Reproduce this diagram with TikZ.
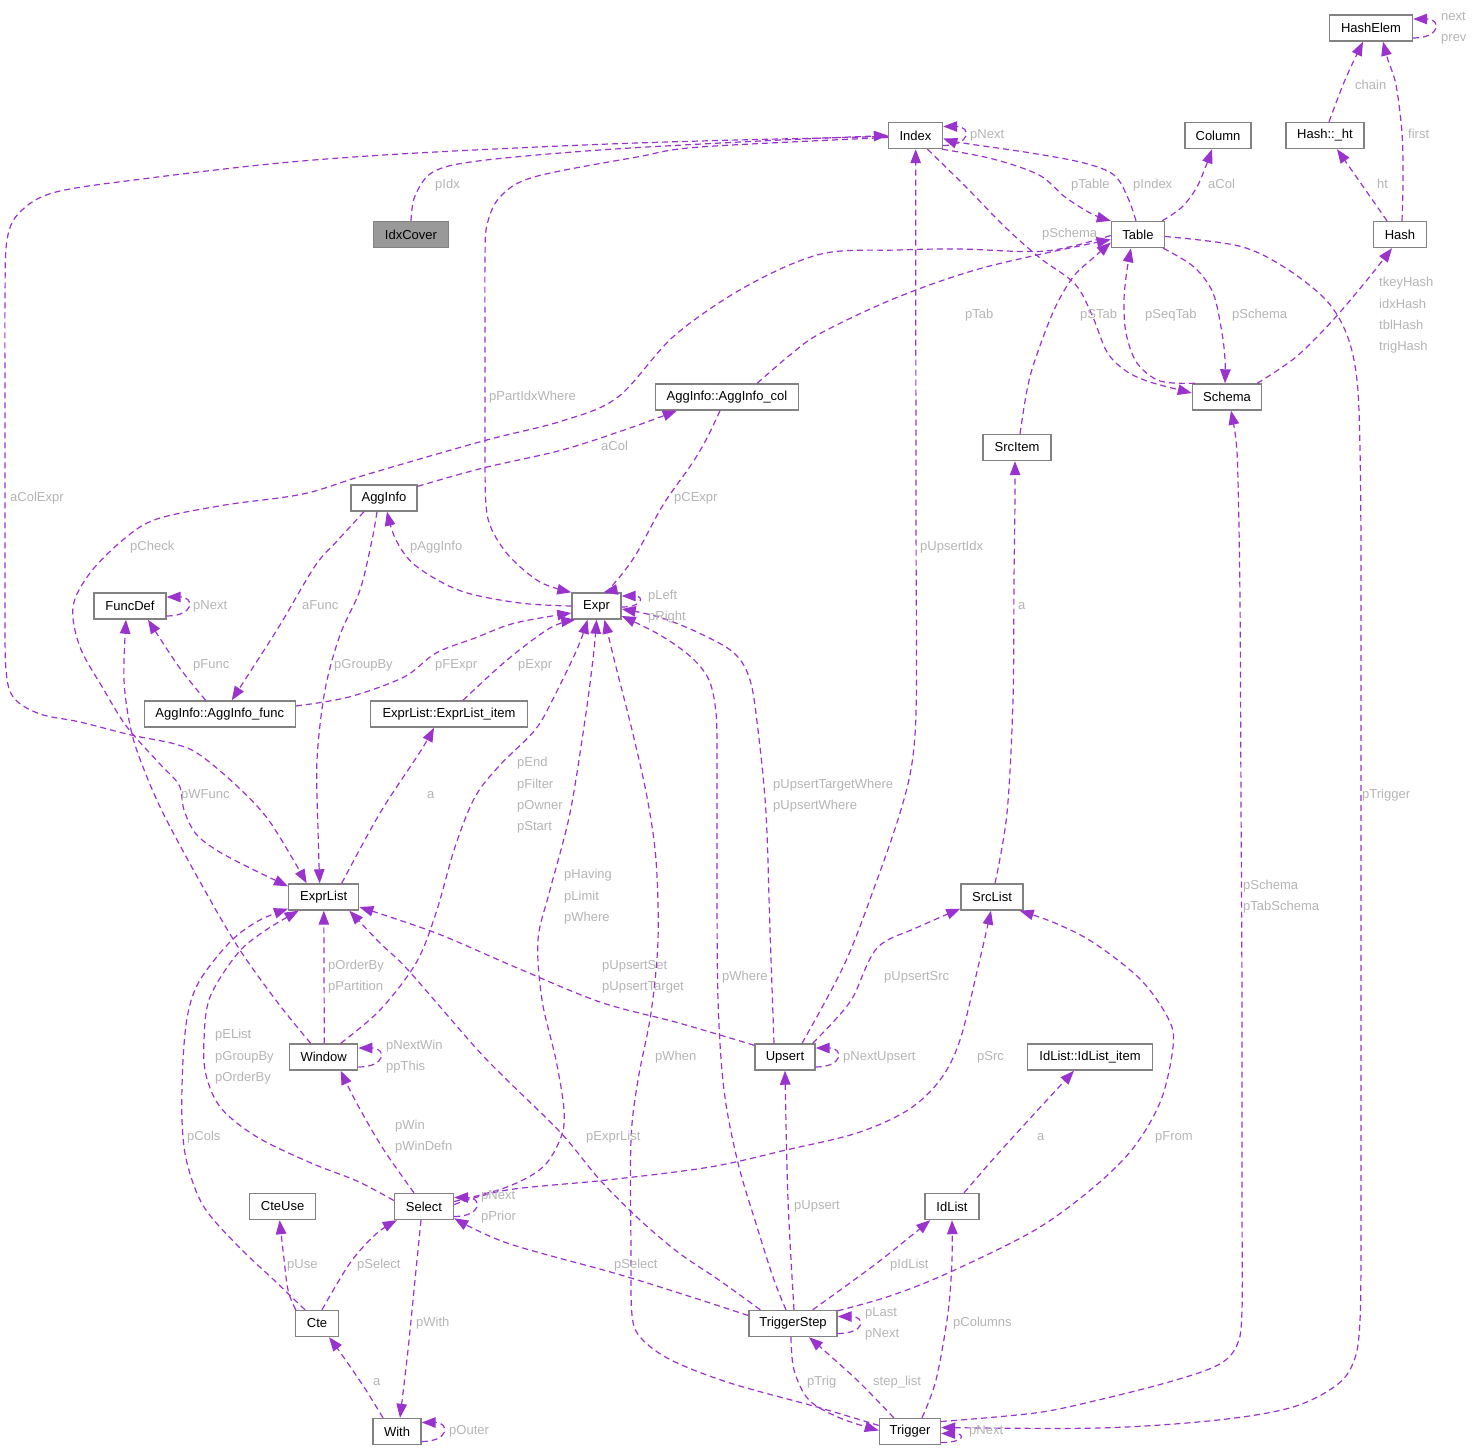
\documentclass[tikz,border=0pt]{standalone}
\usepackage{fontspec}
\setmainfont{Liberation Sans}
\usetikzlibrary{arrows.meta,calc}
\definecolor{edgec}{HTML}{9A32CD}
\definecolor{lblc}{HTML}{B4B4B4}
\definecolor{boxc}{HTML}{828282}
\definecolor{idxfill}{HTML}{999999}
\tikzset{
 cls/.style={draw=boxc, line width=1.4pt, fill=white, minimum height=26pt, inner sep=0pt, font=\fontsize{13}{15}\selectfont, text=black},
 edge/.style={draw=edgec, line width=1.2pt, dash pattern=on 6pt off 4pt, -{Triangle[length=14pt,width=10.5pt]}},
 lbl/.style={anchor=west, inner sep=0pt, text=lblc, font=\fontsize{13}{15}\selectfont, text height=9.5pt, text depth=2.5pt},
}
\newcommand\mylbl[4]{\node[lbl] (#1) at (#2,#3) {#4};}
\newcommand\edgeplot[1]{\draw[edge] plot[smooth,tension=0.55] coordinates {#1};}
\newcommand\selfloop[1]{\draw[edge] ($(#1.east)+(0,10)$) .. controls +(28,0) and +(28,0) .. ($(#1.east)+(0,-9)$);}
\begin{document}
\begin{tikzpicture}[x=1pt,y=-1pt]
\useasboundingbox (0,0) rectangle (1476,1451);
% nodes
\node[cls, minimum width=83pt] (HashElem) at (1371,28) {HashElem};
\node[cls, minimum width=54pt] (Index) at (915.5,135.5) {Index};
\node[cls, minimum width=66pt] (Column) at (1218,135.5) {Column};
\node[cls, minimum width=78pt] (Hashht) at (1325,135.5) {Hash::\_ht};
\node[cls, minimum width=75pt, fill=idxfill] (IdxCover) at (411,234.5) {IdxCover};
\node[cls, minimum width=53pt] (Table) at (1138,234.5) {Table};
\node[cls, minimum width=53pt] (Hash) at (1400,234.5) {Hash};
\node[cls, minimum width=143pt] (AggCol) at (727,397) {AggInfo::AggInfo\_col};
\node[cls, minimum width=69pt] (Schema) at (1227,397) {Schema};
\node[cls, minimum width=68pt] (SrcItem) at (1017,447.5) {SrcItem};
\node[cls, minimum width=66pt] (AggInfo) at (384,498) {AggInfo};
\node[cls, minimum width=72pt] (FuncDef) at (130,606) {FuncDef};
\node[cls, minimum width=49pt] (Expr) at (596.5,606) {Expr};
\node[cls, minimum width=151pt] (AggFunc) at (219.7,714) {AggInfo::AggInfo\_func};
\node[cls, minimum width=157pt] (ExprItem) at (449,714) {ExprList::ExprList\_item};
\node[cls, minimum width=70pt] (ExprList) at (323.7,897) {ExprList};
\node[cls, minimum width=62pt] (SrcList) at (992,897) {SrcList};
\node[cls, minimum width=68pt] (Window) at (323.7,1057) {Window};
\node[cls, minimum width=60pt] (Upsert) at (785,1057) {Upsert};
\node[cls, minimum width=125pt] (IdItem) at (1090,1057) {IdList::IdList\_item};
\node[cls, minimum width=66pt] (CteUse) at (282.6,1206.5) {CteUse};
\node[cls, minimum width=59pt] (Select) at (424,1206.5) {Select};
\node[cls, minimum width=54pt] (IdList) at (952,1206.5) {IdList};
\node[cls, minimum width=43pt] (Cte) at (317,1323.5) {Cte};
\node[cls, minimum width=88pt] (TriggerStep) at (793,1323.5) {TriggerStep};
\node[cls, minimum width=48pt] (With) at (397,1431.5) {With};
\node[cls, minimum width=61pt] (Trigger) at (910,1431.5) {Trigger};
% edges
\edgeplot{(IdxCover.north) (415,196) (433,172) (478,161) (600,150) (760,141) (Index.west)}
\edgeplot{($(Index.west)+(0,1)$) (700,141) (560,146) (400,154) (280,163) (150,178) (56,192) (20,212) (7,240) (5,300) (5,400) (5,500) (5,600) (6,670) (14,698) (40,714) (80,722) (131,735) (175,744) (200,755) (238,787) (270,822) ($(ExprList.north)+(-17,0)$)}
\edgeplot{($(Index.west)+(0,2)$) (700,147) (637,157) (534,177) (500,197) (487,225) (485,260) (485,350) (485,450) (486,505) (492,530) (510,557) (540,582) (Expr.north west)}
\selfloop{Index}
\edgeplot{($(Table.north)+(-2,0)$) (1128,198) (1114,175) (1084,163) (1031,153) (963,143) ($(Index.east)+(0,3)$)}
\edgeplot{($(Index.south east)+(-1,0)$) (993,159) (1039,175) (1065,197) (1092,214) (Table.north west)}
\edgeplot{($(Index.south)+(12,0)$) (967,188) (1005,227) (1040,258) (1075,284) (1092,315) (1107,352) (1126,371) (1150,382) ($(Schema.west)+(0,-4)$)}
\edgeplot{($(Schema.north west)+(3,0)$) (1160,381) (1137,363) (1126,333) (1124,300) (1127,270) ($(Table.south)+(-7,0)$)}
\edgeplot{($(Table.north east)+(-3,0)$) (1182,207) (1198,185) ($(Column.south)+(-6,0)$)}
\edgeplot{($(Table.south east)+(-2,0)$) (1194,267) (1213,293) (1222,333) (1225,360) ($(Schema.north)+(-2,0)$)}
\edgeplot{($(Table.east)+(0,2)$) (1239,246) (1284,267) (1326,300) (1347,335) (1357,380) (1360,450) (1361,550) (1361,700) (1361,900) (1361,1100) (1361,1250) (1360,1320) (1355,1358) (1338,1384) (1293,1407) (1218,1420) (1100,1428) ($(Trigger.east)+(0,-4)$)}
\edgeplot{($(Trigger.east)+(0,-10)$) (1035,1413) (1094,1401) (1169,1382) (1218,1365) (1237,1345) (1242,1310) (1242,1200) (1242,1000) (1241,800) (1240,600) (1238,480) (1236,440) ($(Schema.south)+(4,0)$)}
\edgeplot{($(Hashht.north)+(4,0)$) (1345,80) ($(HashElem.south)+(-8,0)$)}
\edgeplot{($(Hash.north)+(2,0)$) (1403,180) (1402,133) (1396,85) (1388,60) ($(HashElem.south)+(12,0)$)}
\draw[edge] ($(Hash.north)+(-13,0)$) -- ($(Hashht.south)+(12,0)$);
\selfloop{HashElem}
\edgeplot{($(Schema.north east)+(-5,0)$) (1296,357) (1333,320) (1367,280) ($(Hash.south)+(-8,0)$)}
\edgeplot{($(SrcItem.north)+(3,0)$) (1027,390) (1035,360) (1054,310) (1073,277) (1092,259) ($(Table.west)+(0,8)$)}
\edgeplot{($(AggCol.north east)+(-42,0)$) (790,355) (821,333) (898,297) (986,267) ($(Table.west)+(0,5)$)}
\edgeplot{($(Table.west)+(0,1)$) (1046,251) (960,249) (898,250) (821,254) (745,287) (674,336) (618,397) (562,421) (483,441) (365,475) (303,494) (225,505) (157,519) (124,539) (90,573) (73,607) (80,647) (104,690) (127,727) (159,763) (179,785) (184,810) (196,834) (218,851) (250,868) ($(ExprList.north west)+(0,3)$)}
\edgeplot{($(AggInfo.north east)+(0,2)$) (483,468) (562,450) (630,428) ($(AggCol.south west)+(22,0)$)}
\edgeplot{($(AggCol.south)+(-7,0)$) (706,440) (691,465) (663,505) (635,556) (612,586) ($(Expr.north)+(7,0)$)}
\edgeplot{(Expr.west) (520,603) (461,591) (416,566) (396,540) ($(AggInfo.south)+(3,0)$)}
\edgeplot{($(AggInfo.south)+(-20,0)$) (338,540) (315,566) (280,625) (250,672) ($(AggFunc.north)+(12,0)$)}
\edgeplot{($(AggInfo.south)+(-7,0)$) (372,540) (360,590) (340,635) (325,690) (317,760) (318,830) ($(ExprList.north)+(-4,0)$)}
\edgeplot{($(AggFunc.north)+(-14,0)$) (179,667) ($(FuncDef.south)+(18,0)$)}
\edgeplot{($(AggFunc.east)+(0,-8)$) (349,697) (404,677) (436,653) (475,638) (515,623) ($(Expr.west)+(0,7)$)}
\edgeplot{($(ExprItem.north)+(14,0)$) (507,660) (550,628) ($(Expr.south west)+(4,0)$)}
\edgeplot{($(ExprList.north)+(18,0)$) (380,813) (420,752) ($(ExprItem.south)+(-15,0)$)}
\selfloop{FuncDef}
\draw[edge] ($(Expr.east)+(0,1)$) .. controls +(22,0) and +(22,0) .. ($(Expr.east)+(0,-10)$);
\edgeplot{($(Upsert.north)+(-11,0)$) (770,930) (766,813) (758,730) (750,680) (734,653) (699,633) (659,617) ($(Expr.east)+(0,3)$)}
\edgeplot{($(TriggerStep.north)+(-7,0)$) (774,1280) (758,1230) (738,1163) (724,1090) (718,1000) (717,880) (717,760) (716,713) (709,680) (691,657) (660,635) ($(Expr.east)+(0,10)$)}
\edgeplot{($(Window.north)+(17,0)$) (380,1010) (416,963) (436,913) (455,847) (475,797) (500,765) (535,730) (554,697) (578,647) ($(Expr.south)+(-9,0)$)}
\edgeplot{($(Select.east)+(0,-5)$) (507,1187) (543,1167) (561,1137) (564,1110) (556,1060) (542,1000) (538,940) (550,890) (570,813) (586,713) (594,650) (Expr.south)}
\edgeplot{($(Trigger.west)+(0,-6)$) (817,1407) (730,1383) (671,1360) (641,1338) (632,1315) (631,1250) (631,1140) (638,1080) (651,1013) (658,940) (656,860) (647,797) (632,730) (616,667) ($(Expr.south)+(8,0)$)}
\edgeplot{($(Window.north)+(-13,0)$) (278,1003) (238,947) (199,880) (163,813) (143,767) (131,730) (124,680) ($(FuncDef.south)+(-4,0)$)}
\edgeplot{($(Select.west)+(0,-6)$) (357,1181) (311,1163) (257,1137) (221,1108) (206,1075) (204,1040) (210,997) (238,953) (266,930) ($(ExprList.south)+(-25,0)$)}
\edgeplot{($(Cte.north)+(-12,0)$) (275,1281) (239,1247) (204,1207) (187,1163) (182,1120) (183,1060) (188,1013) (200,980) (230,942) (258,921) ($(ExprList.south west)+(0,-2)$)}
\draw[edge] ($(Window.north)+(0.6,0)$) -- ($(ExprList.south)+(0.1,0)$);
\edgeplot{($(TriggerStep.north west)+(12,0)$) (719,1280) (679,1253) (640,1220) (600,1180) (561,1133) (507,1080) (475,1047) (408,970) (380,943) ($(ExprList.south east)+(-10,0)$)}
\edgeplot{($(Upsert.north west)+(0,2)$) (679,1023) (600,1002) (515,967) (436,933) ($(ExprList.east)+(0,10)$)}
\selfloop{Window}
\edgeplot{($(Select.north)+(-10,0)$) (382,1147) (355,1100) ($(Window.south)+(17,0)$)}
\selfloop{Select}
\edgeplot{($(Select.east)+(0,-2)$) (507,1190) (607,1180) (710,1167) (786,1150) (857,1133) (908,1110) (940,1080) (960,1040) (979,963) ($(SrcList.south)+(-1,0)$)}
\edgeplot{($(Cte.north)+(5,0)$) (350,1263) (376,1234) ($(Select.south west)+(3,0)$)}
\edgeplot{($(TriggerStep.west)+(0,-8)$) (679,1293) (614,1273) (507,1243) ($(Select.south east)+(0,-2)$)}
\edgeplot{($(Select.south)+(-3,0)$) (415,1280) (408,1350) ($(With.north)+(3,0)$)}
\edgeplot{($(Cte.north west)+(1,0)$) (288,1290) (283,1250) ($(CteUse.south)+(-3,0)$)}
\edgeplot{($(With.north)+(-14,0)$) (364,1387) (340,1352) ($(Cte.south)+(12,0)$)}
\selfloop{With}
\edgeplot{($(Upsert.north)+(17,0)$) (845,963) (877,880) (900,813) (912,763) (916.3,700) (916.1,550) (915.9,400) (915.7,250) ($(Index.south)+(0.2,0)$)}
\edgeplot{($(Upsert.north east)+(-3,0)$) (835,1020) (853,997) (877,948) (916,928) ($(SrcList.south west)+(0,-2)$)}
\selfloop{Upsert}
\edgeplot{($(SrcList.north)+(3,0)$) (1007,813) (1013,700) (1014,580) (1015,500) ($(SrcItem.south)+(-2,0)$)}
\edgeplot{($(TriggerStep.north)+(1,0)$) (788,1200) (Upsert.south)}
\edgeplot{($(TriggerStep.north east)+(-25,0)$) (877,1263) ($(IdList.south west)+(6,0)$)}
\edgeplot{($(TriggerStep.north east)+(0,1)$) (890,1296) (948,1273) (1035,1230) (1094,1187) (1134,1147) (1161,1100) (1173,1047) (1169,1020) (1141,980) (1094,943) (1055,923) ($(SrcList.south east)+(-4,0)$)}
\draw[edge] ($(TriggerStep.east)+(0,10)$) .. controls +(28,0) and +(28,0) .. ($(TriggerStep.east)+(0,-7)$);
\edgeplot{($(TriggerStep.south)+(-2,0)$) (794,1370) (809,1400) (840,1418) ($(Trigger.west)+(0,-1)$)}
\edgeplot{($(Trigger.north west)+(15,0)$) (857,1380) ($(TriggerStep.south)+(16,0)$)}
\edgeplot{($(Trigger.north)+(12,0)$) (936,1380) (948,1313) (952,1260) (IdList.south)}
\edgeplot{($(IdList.north)+(12,0)$) (995,1157) (1035,1113) ($(IdItem.south)+(-16,0)$)}
\draw[edge] ($(Trigger.east)+(0,11)$) .. controls +(24,0) and +(24,0) .. ($(Trigger.east)+(0,2)$);
% labels
\mylbl{lpIdx}{435}{185}{pIdx}
\mylbl{laColExpr}{10}{498}{aColExpr}
\mylbl{lpPartIdx}{489}{397}{pPartIdxWhere}
\mylbl{lIdxNext}{970}{135}{pNext}
\mylbl{lpTable}{1071}{185}{pTable}
\mylbl{lpIndex}{1133}{185}{pIndex}
\mylbl{laColT}{1208}{185}{aCol}
\mylbl{lpSchemaI}{1042}{234}{pSchema}
\mylbl{lchain}{1355}{86}{chain}
\mylbl{lfirst}{1408}{135}{first}
\mylbl{lht}{1377}{185}{ht}
\mylbl{lnext}{1441}{17}{next}
\mylbl{lprev}{1441}{38}{prev}
\mylbl{lpTab}{965}{315}{pTab}
\mylbl{lpSTab}{1080}{315}{pSTab}
\mylbl{lpSeqTab}{1145}{315}{pSeqTab}
\mylbl{lpSchemaT}{1232}{315}{pSchema}
\mylbl{ltkey}{1379}{283}{tkeyHash}
\mylbl{lidxH}{1379}{305}{idxHash}
\mylbl{ltblH}{1379}{326}{tblHash}
\mylbl{ltrigH}{1379}{347}{trigHash}
\mylbl{laColA}{601}{447}{aCol}
\mylbl{lpCExpr}{674}{498}{pCExpr}
\mylbl{lpCheck}{130}{547}{pCheck}
\mylbl{lpAggInfo}{410}{547}{pAggInfo}
\mylbl{lpUpsertIdx}{920}{547}{pUpsertIdx}
\mylbl{lFDNext}{193}{606}{pNext}
\mylbl{laFunc}{302}{606}{aFunc}
\mylbl{lpLeft}{648}{596}{pLeft}
\mylbl{lpRight}{648}{617}{pRight}
\mylbl{laSrc}{1018}{606}{a}
\mylbl{lpFunc}{193}{665}{pFunc}
\mylbl{lpGroupByA}{334}{665}{pGroupBy}
\mylbl{lpFExpr}{435}{665}{pFExpr}
\mylbl{lpExpr}{518}{665}{pExpr}
\mylbl{lpEnd}{517}{763}{pEnd}
\mylbl{lpFilter}{517}{785}{pFilter}
\mylbl{lpOwner}{517}{806}{pOwner}
\mylbl{lpStart}{517}{827}{pStart}
\mylbl{laEL}{427}{795}{a}
\mylbl{lpWFunc}{181}{795}{pWFunc}
\mylbl{lpUTW}{773}{785}{pUpsertTargetWhere}
\mylbl{lpUW}{773}{806}{pUpsertWhere}
\mylbl{lpTrigger}{1362}{795}{pTrigger}
\mylbl{lpHaving}{564}{875}{pHaving}
\mylbl{lpLimit}{564}{897}{pLimit}
\mylbl{lpWhereS}{564}{918}{pWhere}
\mylbl{lpSchemaTr}{1243}{886}{pSchema}
\mylbl{lpTabSchema}{1243}{907}{pTabSchema}
\mylbl{lpOrderByW}{328}{966}{pOrderBy}
\mylbl{lpPartition}{328}{987}{pPartition}
\mylbl{lpUpsertSet}{602}{966}{pUpsertSet}
\mylbl{lpUpsertTarget}{602}{987}{pUpsertTarget}
\mylbl{lpWhereT}{722}{977}{pWhere}
\mylbl{lpUpsertSrc}{884}{977}{pUpsertSrc}
\mylbl{lpEList}{215}{1035}{pEList}
\mylbl{lpGroupByS}{215}{1057}{pGroupBy}
\mylbl{lpOrderByS}{215}{1078}{pOrderBy}
\mylbl{lpNextWin}{386}{1046}{pNextWin}
\mylbl{lppThis}{386}{1067}{ppThis}
\mylbl{lpWhen}{655}{1057}{pWhen}
\mylbl{lpNextUpsert}{843}{1057}{pNextUpsert}
\mylbl{lpSrc}{977}{1057}{pSrc}
\mylbl{lpWin}{395}{1126}{pWin}
\mylbl{lpWinDefn}{395}{1147}{pWinDefn}
\mylbl{lpCols}{187}{1137}{pCols}
\mylbl{lpExprList}{586}{1137}{pExprList}
\mylbl{laIdList}{1037}{1137}{a}
\mylbl{lpFrom}{1155}{1137}{pFrom}
\mylbl{lpNextS}{481}{1196}{pNext}
\mylbl{lpPrior}{481}{1217}{pPrior}
\mylbl{lpUpsert}{794}{1206}{pUpsert}
\mylbl{lpUse}{287}{1265}{pUse}
\mylbl{lpSelectC}{357}{1265}{pSelect}
\mylbl{lpSelectT}{614}{1265}{pSelect}
\mylbl{lpIdList}{890}{1265}{pIdList}
\mylbl{lpLast}{865}{1313}{pLast}
\mylbl{lpNextTS}{865}{1334}{pNext}
\mylbl{lpWith}{416}{1323}{pWith}
\mylbl{lpColumns}{953}{1323}{pColumns}
\mylbl{laWith}{373}{1382}{a}
\mylbl{lpTrig}{807}{1382}{pTrig}
\mylbl{lstep}{873}{1382}{step\_list}
\mylbl{lpOuter}{449}{1431}{pOuter}
\mylbl{lpNextT}{969}{1431}{pNext}
\end{tikzpicture}
\end{document}
